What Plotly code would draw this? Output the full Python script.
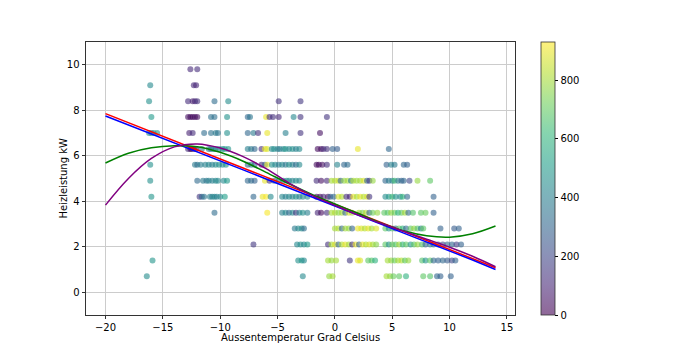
import plotly.graph_objects as go

# ---- scatter data: heating power rows (kW) ----
power_levels = [9.8, 9.1, 8.4, 7.7, 7.0, 6.3, 5.6, 4.9, 4.2, 3.5, 2.8, 2.1, 1.4, 0.7]

temps_98 = [-12.6, -12.0]
colors_98 = [110, 120]
temps_91 = [-16.1, -12.3, -12.1]
colors_91 = [440, 110, 100]
temps_84 = [-16.2, -12.8, -12.4, -12.2, -12.0, -10.5, -9.3, -4.9, -3.0]
colors_84 = [460, 120, 80, 100, 130, 330, 450, 140, 150]
temps_77 = [-16.0, -12.8, -12.6, -12.4, -12.2, -12.0, -10.8, -10.5, -9.4, -7.6, -7.4, -6.0, -5.7, -5.4, -4.9, -3.6, -3.0, -0.7]
colors_77 = [500, 40, 30, 20, 40, 30, 350, 340, 470, 310, 360, 900, 120, 130, 110, 430, 140, 140]
temps_70 = [-16.2, -16.0, -15.8, -15.5, -12.7, -12.4, -11.4, -10.8, -10.4, -10.2, -9.4, -7.6, -7.1, -6.7, -5.9, -4.3, -3.0, -1.3]
colors_70 = [440, 460, 450, 500, 90, 120, 330, 350, 380, 360, 460, 310, 380, 130, 900, 400, 140, 40]
temps_63 = [-12.8, -12.6, -12.5, -12.3, -12.1, -11.6, -11.0, -10.8, -10.6, -10.4, -10.1, -9.8, -9.6, -9.3,
            -7.6, -7.3, -7.0, -6.4, -6.1, -5.9, -5.5, -5.3, -5.0, -4.8, -4.5, -4.3, -4.0, -3.7, -3.4, -3.1,
            -1.5, -1.2, -1.0, -0.7, -0.2, 0.2, 2.0, 4.7]
colors_63 = [120, 50, 40, 100, 60, 400, 380, 360, 410, 430, 440, 460, 500, 480,
             400, 380, 310, 120, 900, 880, 440, 460, 410, 390, 440, 480, 430, 460, 400, 440,
             30, 20, 110, 130, 290, 270, 900, 310]
temps_56 = [-16.1, -12.2, -12.0, -11.7, -11.3, -11.0, -10.7, -10.4, -10.1, -9.8, -9.5, -7.6, -7.3, -7.0,
            -6.4, -6.1, -5.9, -5.5, -5.2, -4.9, -4.6, -4.3, -4.0, -3.7, -3.4, -3.1, -1.6, -1.4, -1.1, -0.7,
            0.2, 0.8, 1.1, 4.5, 4.9, 5.2, 6.0, 6.3]
colors_56 = [460, 380, 340, 400, 410, 430, 400, 440, 460, 440, 480, 310, 380, 330,
             120, 290, 900, 460, 430, 390, 440, 360, 460, 410, 330, 440, 30, 20, 40, 120,
             420, 310, 330, 290, 410, 380, 310, 290]
temps_49 = [-16.1, -12.0, -11.5, -11.2, -11.0, -10.7, -10.4, -10.2, -9.7, -9.4, -7.6, -7.3, -7.0, -6.1,
            -5.7, -5.3, -4.9, -4.5, -4.2, -4.0, -3.7, -3.4, -3.1, -1.6, -1.2, -0.7, -0.3, 0.0, 0.3, 0.5,
            0.8, 1.1, 1.4, 1.6, 1.9, 2.2, 2.5, 2.8, 3.0, 3.3, 4.4, 4.7, 5.0, 5.2, 5.5, 5.8, 6.0, 6.5, 7.2, 8.3]
colors_49 = [460, 320, 380, 360, 410, 400, 430, 440, 440, 500, 310, 330, 290, 900,
             130, 300, 380, 440, 430, 460, 410, 450, 420, 120, 40, 110, 800, 820, 860, 290,
             780, 800, 380, 820, 790, 800, 880, 310, 150, 780, 310, 380, 420, 640, 380, 290, 310, 200, 780, 690]
temps_42 = [-16.0, -11.8, -11.6, -11.4, -10.9, -10.7, -10.5, -10.3, -10.0, -9.6, -7.1, -6.3, -6.0, -5.6,
            -4.6, -4.3, -4.0, -3.7, -3.4, -3.1, -2.8, -2.4, -1.6, -1.3, -1.0, -0.6, -0.4, -0.1, 0.3, 0.6,
            1.0, 1.3, 1.6, 1.9, 2.2, 2.5, 2.8, 3.0, 4.4, 4.7, 5.0, 5.3, 5.7, 5.9, 6.3, 8.6]
colors_42 = [480, 150, 290, 360, 400, 410, 430, 400, 440, 520, 310, 900, 920, 440,
             430, 400, 440, 420, 460, 410, 440, 450, 30, 20, 100, 40, 290, 310, 880, 820,
             120, 100, 900, 800, 900, 820, 880, 140, 450, 490, 630, 470, 430, 610, 310, 290]
temps_35 = [-10.5, -5.9, -4.6, -4.3, -4.0, -3.7, -3.4, -3.1, -2.8, -2.4, -1.5, -1.2, -0.7, -0.3, 0.0,
            0.3, 0.6, 0.9, 1.2, 1.5, 2.1, 2.4, 2.7, 3.0, 3.3, 3.7, 4.3, 4.6, 4.9, 5.2, 5.5, 5.8, 6.1,
            6.4, 6.8, 7.5, 7.9, 8.6]
colors_35 = [330, 920, 400, 430, 310, 440, 150, 410, 460, 400, 100, 30, 130, 800, 820,
             760, 800, 310, 880, 800, 790, 740, 820, 290, 720, 780, 690, 670, 780, 710, 590, 690, 800,
             310, 670, 690, 710, 290]
temps_28 = [-3.5, -3.2, -2.9, -2.7, 0.0, 0.3, 0.6, 0.9, 1.2, 1.5, 2.0, 2.3, 2.6, 2.9, 3.2, 3.6,
            4.4, 4.7, 5.0, 5.3, 5.6, 5.9, 6.2, 6.6, 6.9, 7.2, 7.5, 7.7, 9.2, 10.4, 10.8]
colors_28 = [380, 430, 460, 330, 800, 820, 310, 800, 780, 290, 900, 880, 820, 900, 800, 880,
             690, 470, 670, 330, 710, 590, 310, 690, 780, 670, 400, 690, 290, 270, 290]
temps_21 = [-7.1, -3.3, -3.0, -2.7, -2.4, -0.6, -0.3, 0.0, 0.3, 0.6, 0.9, 1.2, 1.5, 1.8, 2.1, 2.4,
            2.7, 3.0, 3.3, 3.6, 4.4, 4.7, 5.0, 5.3, 5.6, 5.9, 6.2, 6.6, 6.9, 7.2, 7.6, 7.9, 8.3, 8.6,
            9.0, 9.4, 9.8, 10.2, 10.6, 11.0]
colors_21 = [150, 430, 460, 440, 500, 130, 800, 880, 310, 820, 900, 800, 120, 900, 290, 900,
             820, 880, 800, 760, 690, 470, 710, 670, 800, 590, 690, 490, 690, 780, 670, 310, 380, 290,
             270, 200, 290, 310, 180, 290]
temps_14 = [-15.9, -3.2, -2.9, -2.7, -0.6, -0.3, 0.1, 1.3, 2.0, 2.2, 2.9, 3.2, 3.5, 4.6, 4.9, 5.2,
            5.5, 5.8, 6.1, 6.4, 7.6, 7.9, 8.3, 8.6, 9.0, 9.4, 9.8, 10.2, 10.5]
colors_14 = [480, 460, 500, 440, 800, 780, 800, 150, 900, 880, 690, 670, 590, 800, 780, 710,
             800, 820, 690, 780, 670, 470, 690, 310, 290, 310, 270, 200, 290]
temps_07 = [-16.4, -2.8, -0.5, -0.2, 4.5, 4.8, 5.1, 5.6, 6.2, 7.7, 8.3, 8.9, 9.2, 10.1]
colors_07 = [450, 440, 780, 800, 800, 780, 710, 690, 590, 690, 670, 310, 290, 290]

row_temps = [temps_98, temps_91, temps_84, temps_77, temps_70, temps_63, temps_56,
             temps_49, temps_42, temps_35, temps_28, temps_21, temps_14, temps_07]
row_colors = [colors_98, colors_91, colors_84, colors_77, colors_70, colors_63, colors_56,
              colors_49, colors_42, colors_35, colors_28, colors_21, colors_14, colors_07]

# ---- fitted curves ----
curve_x = [-20, -18, -16, -14, -12, -10, -8, -6, -4, -2, 0, 2, 4, 6, 8, 10, 12, 14]
fit_red = [7.85, 7.45, 7.05, 6.66, 6.26, 5.86, 5.46, 5.06, 4.66, 4.27, 3.87, 3.47, 3.07, 2.67, 2.27, 1.88, 1.48, 1.08]
fit_blue = [7.75, 7.36, 6.96, 6.57, 6.17, 5.78, 5.38, 4.98, 4.59, 4.19, 3.79, 3.40, 3.00, 2.60, 2.21, 1.81, 1.42, 1.00]
fit_green = [5.68, 6.11, 6.35, 6.44, 6.40, 6.15, 5.76, 5.27, 4.77, 4.30, 3.88, 3.47, 3.05, 2.70, 2.48, 2.42, 2.57, 2.91]
fit_purple = [3.83, 5.00, 5.88, 6.39, 6.52, 6.34, 5.96, 5.43, 4.80, 4.26, 3.82, 3.40, 3.03, 2.68, 2.33, 1.98, 1.58, 1.12]

x_ticks = [-20, -15, -10, -5, 0, 5, 10, 15]
y_ticks = [0, 2, 4, 6, 8, 10]
cbar_ticks = [0, 200, 400, 600, 800]
c_min, c_max = 0, 930

xs, ys, cs = [], [], []
for p, tl, cl in zip(power_levels, row_temps, row_colors):
    assert len(tl) == len(cl), (p, len(tl), len(cl))
    xs += tl
    ys += [p] * len(tl)
    cs += cl

viridis = ["#440154", "#482878", "#3e4989", "#31688e", "#26828e",
           "#1f9e89", "#35b779", "#6ece58", "#b5de2b", "#fde725"]


def blend(hx, a=0.6):
    r, g, b = int(hx[1:3], 16), int(hx[3:5], 16), int(hx[5:7], 16)
    f = lambda v: round(a * v + (1 - a) * 255)
    return "rgb(%d,%d,%d)" % (f(r), f(g), f(b))


pale = [[i / 9, blend(c)] for i, c in enumerate(viridis)]
font = dict(family="DejaVu Sans", size=10, color="black")

fig = go.Figure()
fig.add_trace(go.Scatter(
    x=xs, y=ys, mode="markers",
    marker=dict(size=6, color=cs, colorscale="Viridis", cmin=c_min, cmax=c_max,
                opacity=0.6, line=dict(width=0), showscale=False),
    showlegend=False, hoverinfo="skip"))
# colour bar (pale, like a translucent mappable)
fig.add_trace(go.Scatter(
    x=[None], y=[None], mode="markers",
    marker=dict(size=1, color=[c_min, c_max], colorscale=pale, cmin=c_min, cmax=c_max,
                showscale=True,
                colorbar=dict(x=1.0606, xanchor="left", y=1.0, yanchor="top", len=1.0,
                              lenmode="fraction", thickness=14, thicknessmode="pixels",
                              outlinewidth=0.8, outlinecolor="#333", tickvals=cbar_ticks,
                              ticks="outside", ticklen=3.5, tickwidth=0.8, tickcolor="black",
                              tickfont=font, xpad=0, ypad=0)),
    showlegend=False, hoverinfo="skip"))

for vals, col, shape in [(fit_red, "red", "linear"), (fit_blue, "blue", "linear"),
                         (fit_green, "green", "spline"), (fit_purple, "purple", "spline")]:
    fig.add_trace(go.Scatter(x=curve_x, y=vals, mode="lines",
                             line=dict(color=col, width=1.5, shape=shape),
                             showlegend=False, hoverinfo="skip"))

axis_common = dict(showgrid=True, gridcolor="#cccccc", gridwidth=1, zeroline=False,
                   showline=True, linecolor="#333", linewidth=0.8, mirror=True,
                   ticks="outside", ticklen=3.5, tickwidth=0.8, tickcolor="#333",
                   tickfont=font)

fig.update_layout(
    width=690, height=354,
    margin=dict(l=86, r=175, t=42, b=39),
    paper_bgcolor="white", plot_bgcolor="white",
    font=font,
    xaxis=dict(range=[-21.7, 15.7], tickvals=x_ticks, **axis_common),
    yaxis=dict(range=[-1, 11], tickvals=y_ticks, **axis_common),
    annotations=[
        dict(text="Aussentemperatur Grad Celsius", xref="paper", yref="paper",
             x=0.5, y=-0.082, xanchor="center", yanchor="middle", showarrow=False, font=font),
        dict(text="Heizleistung kW", xref="paper", yref="paper", textangle=-90,
             x=-0.0536, y=0.5, xanchor="center", yanchor="middle", showarrow=False, font=font),
    ],
)

fig.write_html("out.html")
